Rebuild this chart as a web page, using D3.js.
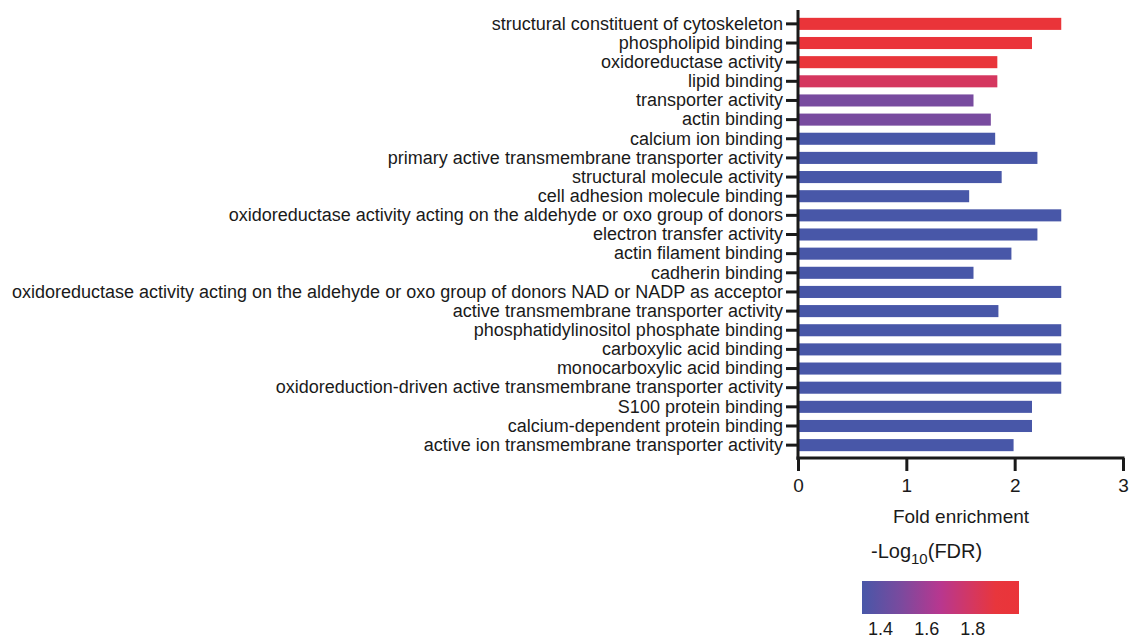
<html>
<head>
<script src="https://cdnjs.cloudflare.com/ajax/libs/d3/7.8.5/d3.min.js"></script>
<style>
body { margin: 0; background: white; }
text { font-family: "Liberation Sans", Arial, sans-serif; fill: #1a1a1a; }
</style>
</head>
<body></body>
<script>
var terms = [
  "structural constituent of cytoskeleton",
  "phospholipid binding",
  "oxidoreductase activity",
  "lipid binding",
  "transporter activity",
  "actin binding",
  "calcium ion binding",
  "primary active transmembrane transporter activity",
  "structural molecule activity",
  "cell adhesion molecule binding",
  "oxidoreductase activity acting on the aldehyde or oxo group of donors",
  "electron transfer activity",
  "actin filament binding",
  "cadherin binding",
  "oxidoreductase activity acting on the aldehyde or oxo group of donors NAD or NADP as acceptor",
  "active transmembrane transporter activity",
  "phosphatidylinositol phosphate binding",
  "carboxylic acid binding",
  "monocarboxylic acid binding",
  "oxidoreduction-driven active transmembrane transporter activity",
  "S100 protein binding",
  "calcium-dependent protein binding",
  "active ion transmembrane transporter activity"
];
var foldEnrichment = [2.43, 2.16, 1.84, 1.84, 1.62, 1.78, 1.82, 2.21, 1.88, 1.58, 2.43, 2.21, 1.97, 1.62,
  2.43, 1.85, 2.43, 2.43, 2.43, 2.43, 2.16, 2.16, 1.99];
var negLogFdr = [2.0, 1.98, 1.95, 1.80, 1.48, 1.48, 1.32, 1.32, 1.32, 1.32, 1.32, 1.32, 1.32, 1.32,
  1.32, 1.32, 1.32, 1.32, 1.32, 1.32, 1.32, 1.32, 1.32];
var xTicks = [0, 1, 2, 3];
var legendTicks = [1.4, 1.6, 1.8];
var fdrDomain = [1.32, 2.0];
var colorStops = [1.32, 1.49, 1.66, 1.80, 1.90, 2.0];
var colorRange = ["#4857a8", "#7b4a9e", "#b8378f", "#d5375f", "#e8363c", "#ea3439"];

var W = 1131, H = 641;
var svg = d3.select("body").append("svg").attr("width", W).attr("height", H);

var x = d3.scaleLinear().domain([0, 3]).range([798, 1123]);
var y = d3.scaleBand().domain(terms).range([14, 455]).paddingInner(0.37).paddingOuter(0.2);
var color = d3.scaleLinear().domain(colorStops).range(colorRange).interpolate(d3.interpolateRgb).clamp(true);

svg.selectAll("rect.bar").data(terms).enter().append("rect")
  .attr("class", "bar")
  .attr("x", x(0))
  .attr("y", function (d) { return y(d); })
  .attr("width", function (d, i) { return x(foldEnrichment[i]) - x(0); })
  .attr("height", y.bandwidth())
  .attr("fill", function (d, i) { return color(negLogFdr[i]); });

var yAxis = svg.append("g").attr("transform", "translate(" + x(0) + ",0)")
  .call(d3.axisLeft(y).tickSize(12).tickPadding(3).tickSizeOuter(0));
yAxis.attr("font-size", null).attr("font-family", null);
yAxis.select(".domain").attr("stroke", "#1a1a1a").attr("stroke-width", 3)
  .attr("d", "M0,10V460");
yAxis.selectAll(".tick line").attr("stroke", "#1a1a1a").attr("stroke-width", 3);
yAxis.selectAll(".tick text").style("font-size", "18px").attr("fill", "#1a1a1a");

var xAxis = svg.append("g").attr("transform", "translate(0,458)")
  .call(d3.axisBottom(x).tickValues(xTicks).tickFormat(d3.format("d")).tickSize(13).tickPadding(8).tickSizeOuter(0));
xAxis.attr("font-size", null).attr("font-family", null);
xAxis.select(".domain").attr("stroke", "#1a1a1a").attr("stroke-width", 3)
  .attr("d", "M" + (x(0) - 1.5) + ",0H" + (x(3) + 1.5));
xAxis.selectAll(".tick line").attr("stroke", "#1a1a1a").attr("stroke-width", 3);
xAxis.selectAll(".tick text").style("font-size", "19px").attr("fill", "#1a1a1a");

svg.append("text").attr("x", 961).attr("y", 523).attr("text-anchor", "middle")
  .style("font-size", "19px").text("Fold enrichment");

// color legend
var legendTitle = svg.append("text").attr("x", 871).attr("y", 558).style("font-size", "20px");
legendTitle.append("tspan").text("-Log");
legendTitle.append("tspan").attr("dy", 6).style("font-size", "15px").text("10");
legendTitle.append("tspan").attr("dy", -6).text("(FDR)");

var lx = d3.scaleLinear().domain(fdrDomain).range([862, 1019]);
var grad = svg.append("defs").append("linearGradient").attr("id", "fdrGrad");
grad.selectAll("stop").data(colorStops).enter().append("stop")
  .attr("offset", function (d) { return ((d - fdrDomain[0]) / (fdrDomain[1] - fdrDomain[0]) * 100) + "%"; })
  .attr("stop-color", function (d) { return color(d); });
svg.append("rect").attr("x", lx(fdrDomain[0])).attr("y", 581)
  .attr("width", lx(fdrDomain[1]) - lx(fdrDomain[0])).attr("height", 33)
  .attr("fill", "url(#fdrGrad)");
svg.selectAll("text.lt").data(legendTicks).enter().append("text")
  .attr("class", "lt")
  .attr("x", function (d) { return lx(d); })
  .attr("y", 635).attr("text-anchor", "middle")
  .style("font-size", "18px")
  .text(function (d) { return d.toFixed(1); });
</script>
</html>
